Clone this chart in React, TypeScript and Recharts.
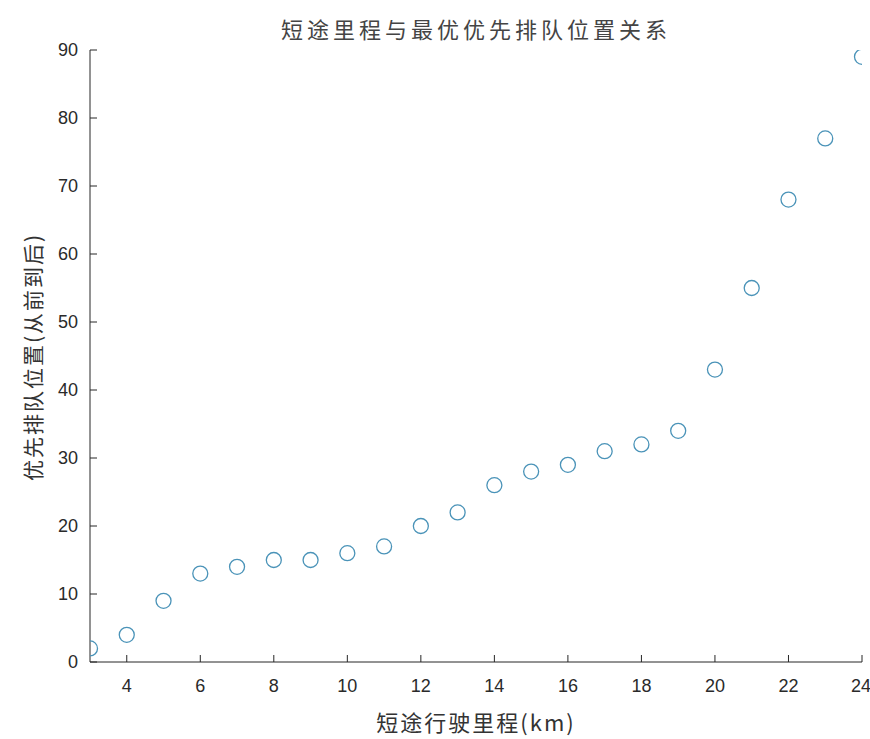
import { ScatterChart, Scatter, XAxis, YAxis } from "recharts"

const distances = [3, 4, 5, 6, 7, 8, 9, 10, 11, 12, 13, 14, 15, 16, 17, 18, 19, 20, 21, 22, 23, 24]
const positions = [2, 4, 9, 13, 14, 15, 15, 16, 17, 20, 22, 26, 28, 29, 31, 32, 34, 43, 55, 68, 77, 89]
const xTicks = [4, 6, 8, 10, 12, 14, 16, 18, 20, 22, 24]
const yTicks = [0, 10, 20, 30, 40, 50, 60, 70, 80, 90]

const data = distances.map((d, i) => ({ x: d, y: positions[i] }))

const axisColor = "#262626"
const tickFont = { fill: "#2a2a2a", fontSize: 18, fontFamily: "Liberation Sans, Arial, sans-serif" }

const Ring = (props: any) => {
	const { cx, cy } = props
	return <circle cx={cx} cy={cy} r={7.5} fill="none" stroke="#4a93b8" strokeWidth={1.3} />
}

const App = () => {
	return (
		<div style={{ position: "absolute", left: 0, top: 0, width: 870, height: 739, background: "#fff" }}>
			<div
				style={{
					position: "absolute",
					top: 12,
					left: 90,
					width: 772,
					textAlign: "center",
					fontFamily: "Noto Sans CJK SC",
					fontSize: 22,
					letterSpacing: 4,
					color: "#444",
				}}
			>
				短途里程与最优优先排队位置关系
			</div>
			<div
				style={{
					position: "absolute",
					left: 32,
					top: 357,
					transform: "translate(-50%, -50%) rotate(-90deg)",
					whiteSpace: "nowrap",
					fontFamily: "Noto Sans CJK SC",
					fontSize: 21,
					letterSpacing: 2,
					color: "#333",
				}}
			>
				优先排队位置(从前到后)
			</div>
			<div
				style={{
					position: "absolute",
					top: 705,
					left: 90,
					width: 772,
					textAlign: "center",
					fontFamily: "Noto Sans CJK SC",
					fontSize: 22,
					letterSpacing: 2,
					color: "#333",
				}}
			>
				短途行驶里程(km)
			</div>
			<ScatterChart width={870} height={739} margin={{ top: 50, right: 8, bottom: 47, left: 30 }}>
				<XAxis
					xAxisId="bottom"
					type="number"
					dataKey="x"
					domain={[3, 24]}
					ticks={xTicks}
					allowDataOverflow
					height={30}
					tickSize={-7}
					tickMargin={24}
					stroke={axisColor}
					tick={tickFont}
				/>
				<XAxis
					xAxisId="top"
					orientation="top"
					type="number"
					domain={[3, 24]}
					ticks={xTicks}
					height={0}
					tickSize={-7}
					tick={false}
					stroke={axisColor}
				/>
				<YAxis
					yAxisId="left"
					type="number"
					dataKey="y"
					domain={[0, 90]}
					ticks={yTicks}
					allowDataOverflow
					width={60}
					tickSize={-7}
					tickMargin={19}
					stroke={axisColor}
					tick={tickFont}
				/>
				<YAxis
					yAxisId="right"
					orientation="right"
					type="number"
					domain={[0, 90]}
					ticks={yTicks}
					width={0}
					tickSize={-7}
					tick={false}
					stroke={axisColor}
				/>
				<Scatter
					data={data}
					xAxisId="bottom"
					yAxisId="left"
					shape={<Ring />}
					isAnimationActive={false}
				/>
			</ScatterChart>
		</div>
	)
}

export default App
